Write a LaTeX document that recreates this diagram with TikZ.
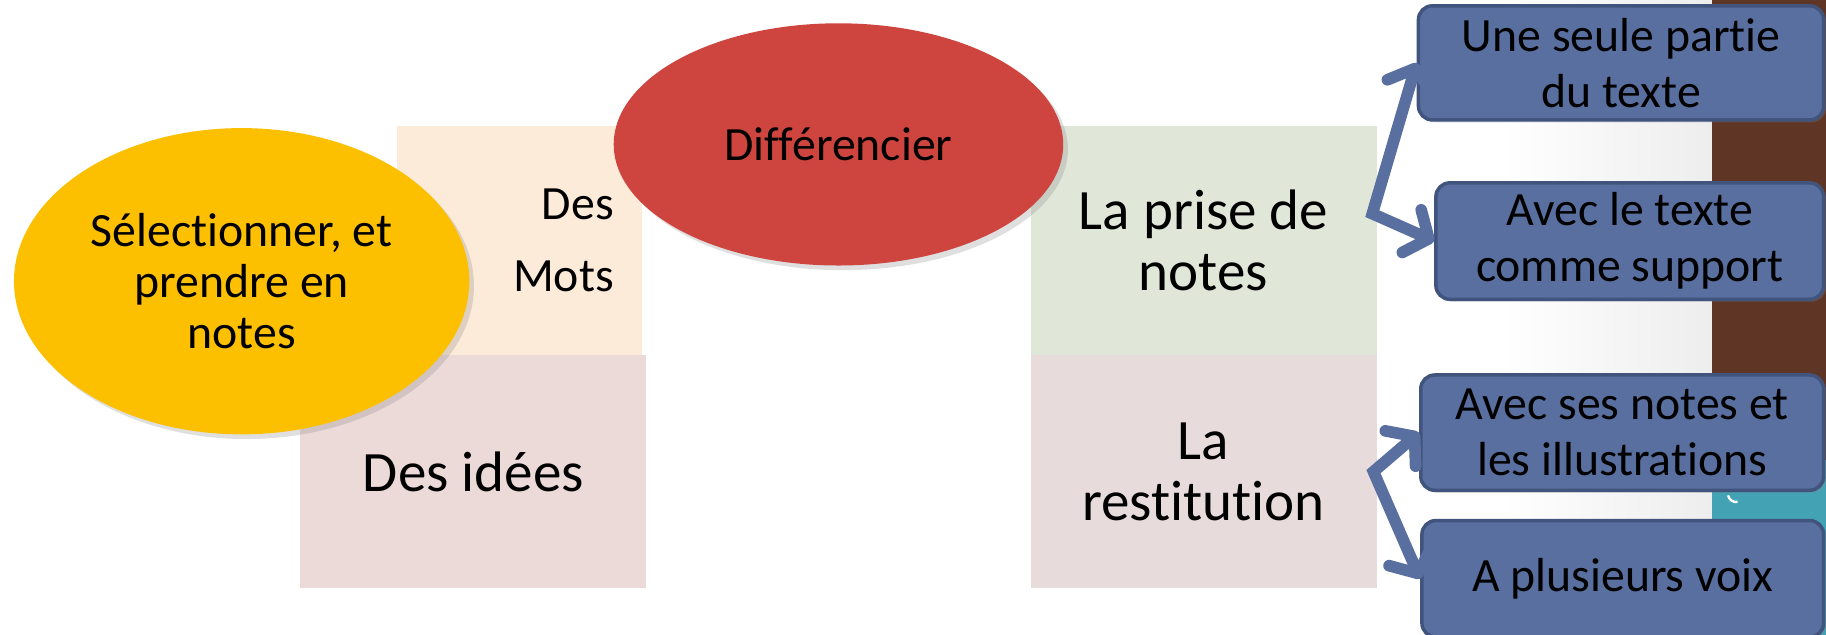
\documentclass[tikz,border=0pt]{standalone}
\usepackage{fontspec}
\setmainfont{Carlito}[Ligatures={NoCommon, NoContextual, NoRequired}, Contextuals={NoAlternate}]
\usetikzlibrary{shapes.geometric, arrows.meta, shadows, calc}

\definecolor{jaune}{RGB}{252,192,0}
\definecolor{rouge}{RGB}{206,68,62}
\definecolor{peche}{RGB}{253,235,218}
\definecolor{rose}{RGB}{236,218,217}
\definecolor{roseclair}{RGB}{231,219,219}
\definecolor{vert}{RGB}{224,231,217}
\definecolor{bleu}{RGB}{89,111,160}
\definecolor{bleufonce}{RGB}{65,84,126}
\definecolor{brun}{RGB}{95,53,37}
\definecolor{turquoise}{RGB}{68,162,181}

\begin{document}
\begin{tikzpicture}[x=0.5pt, y=-0.5pt]

    % --- Styles ---
    \tikzset{
        bloc/.style={rectangle, inner sep=0pt, align=center,
            font=\fontsize{24.5}{26}\selectfont},
        bulle/.style={ellipse, inner sep=0pt, align=center,
            font=\fontsize{20.5}{21.75}\selectfont,
            drop shadow={shadow xshift=2pt, shadow yshift=-2pt, opacity=.25}},
        choix/.style={rectangle, rounded corners=6pt, fill=bleu, draw=bleufonce,
            line width=1.5pt, inner sep=0pt, align=center,
            font=\fontsize{20.5}{24}\selectfont,
            drop shadow={shadow xshift=1pt, shadow yshift=-1pt, opacity=.3}},
        fleche/.style={draw=bleu, line width=5pt, line join=miter,
            {Straight Barb[round, length=8pt, width=20pt]}-{Straight Barb[round, length=8pt, width=20pt]}},
    }

    % 1. Cadre et fond
    \useasboundingbox (0,0) rectangle (1568,545);
    \fill[white] (0,0) rectangle (1568,545);
    \shade[left color=white, right color=black!7] (1290,0) rectangle (1470,545);
    \fill[brun] (1470,0) rectangle (1568,395);
    \fill[turquoise] (1470,395) rectangle (1568,545);
    \draw[white, line width=1pt] (1492,431) arc (80:170:7);

    % 2. Blocs de gauche
    \node[bloc, fill=peche, minimum width=105pt, minimum height=98.5pt,
        text width=81pt, align=right, font=\fontsize{20.5}{31}\selectfont]
        (mots) at (446,206.5) {Des\\Mots};
    \node[bloc, fill=rose, minimum width=148.5pt, minimum height=100pt]
        (idees) at (406.5,405) {Des idées};

    % 3. Blocs de droite
    \node[bloc, fill=vert, minimum width=148.5pt, minimum height=98.5pt]
        (prise) at (1033.5,206.5) {La prise de\\notes};
    \node[bloc, fill=roseclair, minimum width=148.5pt, minimum height=100pt]
        (restitution) at (1033.5,405) {La\\restit\kern0pt ution};

    % 4. Bulles
    \node[bulle, fill=jaune, minimum width=195.5pt, minimum height=131.5pt]
        (selection) at (207.5,241.5) {Sélect\kern0pt ionner, et\\prendre en\\notes};
    \node[bulle, fill=rouge, minimum width=193pt, minimum height=104pt]
        (differencier) at (720,124) {Différencier};

    % 5. Choix
    \node[choix, minimum width=174pt, minimum height=49pt]
        (partie) at (1392,54) {Une seule partie\\du texte};
    \node[choix, minimum width=166.5pt, minimum height=50pt]
        (support) at (1399.5,207) {Avec le texte\\comme support};
    \node[choix, minimum width=173pt, minimum height=49.5pt]
        (illustrations) at (1393,371.5) {Avec ses notes et\\les illustrat\kern0pt ions};
    \node[choix, minimum width=172.5pt, minimum height=50pt]
        (voix) at (1393.5,497) {A plusieurs voix};

    % 6. Fleches
    \coordinate (fourche1) at ($(prise.east)+(-4,-23)$);
    \coordinate (fourche2) at ($(restitution.east)+(-3,0)$);
    \draw[fleche] (partie.west) -- (fourche1) -- (support.west);
    \draw[fleche] (illustrations.west) -- (fourche2) -- (voix.west);

\end{tikzpicture}
\end{document}
